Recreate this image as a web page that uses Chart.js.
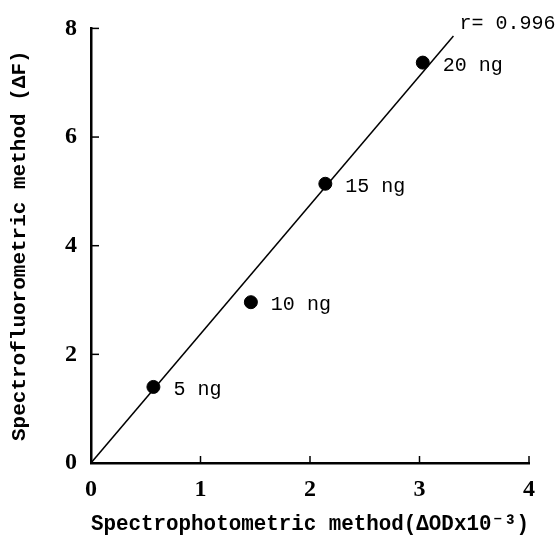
<!DOCTYPE html>
<html>
<head>
<meta charset="utf-8">
<script src="https://cdn.jsdelivr.net/npm/chart.js@4.4.0/dist/chart.umd.min.js"></script>
<style>
  html, body { margin: 0; padding: 0; background: #fff; }
  #wrap { width: 560px; height: 541px; }
</style>
</head>
<body>
<div id="wrap"><canvas id="chart" width="560" height="541"></canvas></div>
<script>
// values
const amounts = ['5 ng', '10 ng', '15 ng', '20 ng'];
const photometric = [0.57, 1.46, 2.14, 3.03];
const fluorometric = [1.40, 2.96, 5.14, 7.37];
const fitX = [0, 3.31];
const fitY = [0, 7.86];
const corrLabel = 'r= 0.996';
const xTitle = 'Spectrophotometric method(\u0394ODx10\u207B\u00B3)';
const yTitle = 'Spectrofluorometric method (\u0394F)';

const monoFont = '"Liberation Mono", "DejaVu Sans Mono", monospace';
const serifFont = '"Liberation Serif", serif';

// inward tick marks + text next to the points
const annotate = {
    id: 'annotate',
    afterDatasetsDraw(chart) {
        const { ctx, scales: { x, y } } = chart;
        ctx.save();
        ctx.strokeStyle = '#000';
        ctx.lineWidth = 1.5;
        x.ticks.forEach(t => {
            if (t.value === 0) return;
            const px = x.getPixelForValue(t.value);
            ctx.beginPath();
            ctx.moveTo(px, y.bottom);
            ctx.lineTo(px, y.bottom - 7);
            ctx.stroke();
        });
        y.ticks.forEach(t => {
            if (t.value === 0) return;
            const py = y.getPixelForValue(t.value);
            ctx.beginPath();
            ctx.moveTo(x.left, py);
            ctx.lineTo(x.left + 8, py);
            ctx.stroke();
        });

        ctx.fillStyle = '#000';
        ctx.font = '20px ' + monoFont;
        ctx.textAlign = 'left';
        ctx.textBaseline = 'middle';
        amounts.forEach((a, i) => {
            ctx.fillText(a, x.getPixelForValue(photometric[i]) + 20, y.getPixelForValue(fluorometric[i]) + 3);
        });
        const ex = x.getPixelForValue(fitX[1]);
        const ey = y.getPixelForValue(fitY[1]);
        ctx.fillText(corrLabel, ex + 6, ey - 12);
        ctx.restore();
    }
};

const ctx = document.getElementById('chart').getContext('2d');

new Chart(ctx, {
    type: 'scatter',
    data: {
        datasets: [
            {
                label: 'fit',
                data: fitX.map((v, i) => ({ x: v, y: fitY[i] })),
                showLine: true,
                borderColor: '#000',
                borderWidth: 1.5,
                pointRadius: 0,
                fill: false
            },
            {
                label: 'samples',
                data: photometric.map((v, i) => ({ x: v, y: fluorometric[i] })),
                backgroundColor: '#000',
                borderColor: '#000',
                pointRadius: 6.5,
                pointHoverRadius: 6.5
            }
        ]
    },
    options: {
        responsive: false,
        animation: false,
        layout: { padding: { top: 28, right: 31, left: 0, bottom: 0 } },
        plugins: {
            legend: { display: false },
            tooltip: { enabled: false }
        },
        scales: {
            x: {
                type: 'linear',
                min: 0,
                max: 4,
                afterFit: (scale) => { scale.height = 78; },
                ticks: {
                    stepSize: 1,
                    color: '#000',
                    padding: 12,
                    font: { family: serifFont, size: 24, weight: 'bold' }
                },
                grid: { display: false, drawTicks: false },
                border: { display: true, color: '#000', width: 2.5 },
                title: {
                    display: true,
                    text: xTitle,
                    color: '#000',
                    padding: { top: 0, bottom: 3 },
                    font: { family: monoFont, size: 22, weight: 'bold' }
                }
            },
            y: {
                type: 'linear',
                min: 0,
                max: 8,
                afterFit: (scale) => { scale.width = 91; },
                ticks: {
                    stepSize: 2,
                    color: '#000',
                    padding: 14,
                    font: { family: serifFont, size: 24, weight: 'bold' }
                },
                grid: { display: false, drawTicks: false },
                border: { display: true, color: '#000', width: 2.5 },
                title: {
                    display: true,
                    text: yTitle,
                    color: '#000',
                    padding: { top: 7, bottom: 0 },
                    font: { family: monoFont, size: 21, weight: 'bold' }
                }
            }
        }
    },
    plugins: [annotate]
});
</script>
</body>
</html>
